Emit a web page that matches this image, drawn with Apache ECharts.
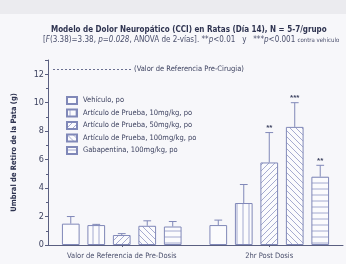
<!DOCTYPE html>
<html><head><meta charset="utf-8">
<script src="https://cdn.jsdelivr.net/npm/echarts@6/dist/echarts.min.js"></script>
<style>html,body{margin:0;padding:0;background:#f7f7fa;}#c{width:346px;height:264px;}</style>
</head><body><div id="c"></div>
<script>
const categories = ['Valor de Referencia de Pre-Dosis', '2hr Post Dosis'];
const seriesNames = ['Vehículo, po', 'Artículo de Prueba, 10mg/kg, po', 'Artículo de Prueba, 50mg/kg, po', 'Artículo de Prueba, 100mg/kg, po', 'Gabapentina, 100mg/kg, po'];
const vehiculo = [1.5, 1.4];
const art10 = [1.4, 2.95];
const art50 = [0.7, 5.8];
const art100 = [1.35, 8.3];
const gabapentina = [1.3, 4.8];
const errVehiculo = [0.5, 0.35];
const errArt10 = [0.05, 1.3];
const errArt50 = [0.1, 2.1];
const errArt100 = [0.35, 1.7];
const errGabapentina = [0.35, 0.8];
const starsVehiculo = ['', ''];
const starsArt10 = ['', ''];
const starsArt50 = ['', '**'];
const starsArt100 = ['', '***'];
const starsGabapentina = ['', '**'];
const refValue = 12.35;
const refLabel = '(Valor de Referencia Pre-Cirugia)';
const yTicks = [0, 2, 4, 6, 8, 10, 12];

const values = [vehiculo, art10, art50, art100, gabapentina];
const errs = [errVehiculo, errArt10, errArt50, errArt100, errGabapentina];
const stars = [starsVehiculo, starsArt10, starsArt50, starsArt100, starsGabapentina];

const FN = '"DejaVu Sans Condensed", sans-serif';
const lineCol = '#9097c4';
const edgeCol = '#8088b8';

function pattern(kind) {
  const s = 6;
  const c = document.createElement('canvas');
  c.width = s; c.height = s;
  const g = c.getContext('2d');
  g.fillStyle = '#fbfbfd';
  g.fillRect(0, 0, s, s);
  g.strokeStyle = lineCol;
  g.lineWidth = 0.8;
  g.beginPath();
  if (kind === 'v') { g.moveTo(3, 0); g.lineTo(3, s); }
  else if (kind === 'h') { g.moveTo(0, 3); g.lineTo(s, 3); }
  else if (kind === 'f') { g.moveTo(-1, s + 1); g.lineTo(s + 1, -1); g.moveTo(-1, 1); g.lineTo(1, -1); g.moveTo(s - 1, s + 1); g.lineTo(s + 1, s - 1); }
  else if (kind === 'b') { g.moveTo(-1, -1); g.lineTo(s + 1, s + 1); g.moveTo(s - 1, -1); g.lineTo(s + 1, 1); g.moveTo(-1, s - 1); g.lineTo(1, s + 1); }
  if (kind !== 'n') g.stroke();
  return { image: c, repeat: 'repeat' };
}
const kinds = ['n', 'v', 'f', 'b', 'h'];

const BW = 0.12, GAP = 0.44;

const series = [];
seriesNames.forEach((name, i) => {
  series.push({
    name: name, type: 'bar', data: values[i], barWidth: (BW * 100) + '%', barGap: (GAP * 100) + '%',
    itemStyle: { color: pattern(kinds[i]), borderColor: edgeCol, borderWidth: 1 },
    markLine: i === 0 ? {
      silent: true, symbol: 'none',
      lineStyle: { type: [2, 2], color: '#6a6f90', width: 1 },
      label: { show: true, position: 'end', formatter: refLabel, color: '#3d4260', fontSize: 7.5, fontFamily: FN, distance: 3 },
      data: [[{ x: 53, yAxis: refValue }, { x: 131, yAxis: refValue }]]
    } : undefined,
    z: 2
  });
});
seriesNames.forEach((name, i) => {
  series.push({
    type: 'custom', name: name + ' err', silent: true, z: 3,
    data: values[i].map((v, j) => [j, v, errs[i][j], stars[i][j]]),
    renderItem: function (params, api) {
      const band = api.size([1, 0])[0];
      const w = band * BW;
      const off = (i - 2) * w * (1 + GAP);
      const base = api.coord([api.value(0), api.value(1)]);
      const top = api.coord([api.value(0), api.value(1) + api.value(2)]);
      const x = base[0] + off;
      const cap = w * 0.22;
      const ch = [
        { type: 'line', shape: { x1: x, y1: base[1], x2: x, y2: top[1] }, style: { stroke: edgeCol, lineWidth: 1 } },
        { type: 'line', shape: { x1: x - cap, y1: top[1], x2: x + cap, y2: top[1] }, style: { stroke: edgeCol, lineWidth: 1 } }
      ];
      const st = stars[i][params.dataIndex];
      if (st) ch.push({ type: 'text', style: { text: st, x: x, y: top[1] - 5, align: 'center', verticalAlign: 'middle', fill: '#3d4260', font: 'bold 8px Liberation Sans' } });
      return { type: 'group', children: ch };
    }
  });
});

const chart = echarts.init(document.getElementById('c'), null, { renderer: 'canvas' });
chart.setOption({
  backgroundColor: '#f7f7fa',
  animation: false,
  graphic: [{ type: 'rect', left: 0, top: 0, shape: { width: 346, height: 14 }, style: { fill: '#ebebef' }, z: -1 }],
  title: [{
    text: 'Modelo de Dolor Neuropático (CCI) en Ratas (Día 14), N = 5-7/grupo',
    left: 46, top: 21,
    textStyle: { fontSize: 8, fontWeight: 'bold', color: '#2e3350', fontFamily: FN }
  }, {
    text: '{a|[}{i|F}{a|(3.38)=3.38, }{i|p=0.028}{a|, ANOVA de 2-vías]. **}{i|p}{a|<0.01   y   ***}{i|p}{a|<0.001 }{s|contra vehículo}',
    left: 38, top: 31,
    textStyle: {
      color: '#4a4f6c', fontSize: 8, fontWeight: 'normal', fontFamily: FN,
      rich: {
        a: { fontSize: 8, color: '#4a4f6c', fontFamily: FN },
        i: { fontSize: 8, fontStyle: 'italic', color: '#4a4f6c', fontFamily: FN },
        s: { fontSize: 6, color: '#4a4f6c', fontFamily: FN }
      }
    }
  }],
  legend: {
    orient: 'vertical', left: 61, top: 91, itemWidth: 10, itemHeight: 7, itemGap: 3.5,
    data: seriesNames, icon: 'rect',
    textStyle: { fontSize: 7.5, color: '#3d4260', fontFamily: FN, padding: [0, 0, 0, 1] }
  },
  grid: { left: 48, right: 3, top: 60, bottom: 19 },
  xAxis: {
    type: 'category', data: categories,
    axisLine: { lineStyle: { color: '#5a5f80', width: 1 } },
    axisTick: { show: true, alignWithLabel: true, length: 2, lineStyle: { color: '#5a5f80' } },
    axisLabel: { interval: 0, fontSize: 7.5, color: '#4a4f6c', fontFamily: FN, margin: 7 }
  },
  yAxis: {
    type: 'value', min: 0, max: 13, interval: 2,
    name: 'Umbral de Retiro de la Pata (g)', nameLocation: 'middle', nameGap: 30,
    nameTextStyle: { fontSize: 7.5, fontWeight: 'bold', color: '#2e3350', fontFamily: FN },
    axisLine: { show: true, lineStyle: { color: '#5a5f80', width: 1 } },
    axisTick: { show: true, length: 3, lineStyle: { color: '#5a5f80' } },
    minorTick: { show: true, splitNumber: 2, length: 2, lineStyle: { color: '#5a5f80' } },
    splitLine: { show: false },
    axisLabel: { fontSize: 9, color: '#3d4260', fontFamily: FN, margin: 4,
      formatter: v => yTicks.indexOf(v) >= 0 ? String(v) : '' }
  },
  series: series
});
</script></body></html>
